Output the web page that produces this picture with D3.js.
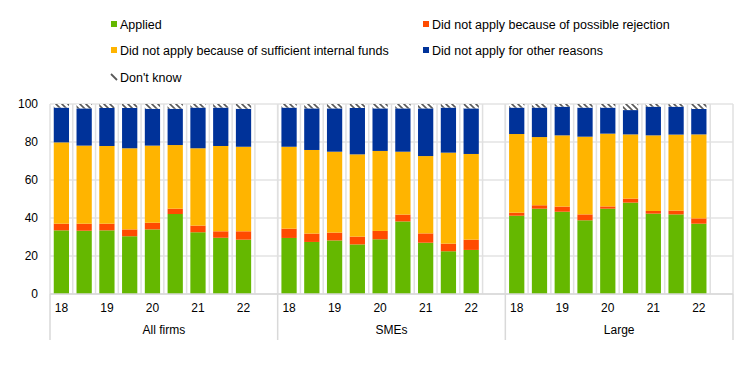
<!DOCTYPE html>
<html>
<head>
<meta charset="utf-8">
<script src="https://cdn.jsdelivr.net/npm/d3@7"></script>
<style>
  body { margin: 0; background: #fff; }
  svg { font-family: "Liberation Sans", Arial, sans-serif; }
</style>
</head>
<body>
<svg width="744" height="375"></svg>
<script>
    // categories
    const groups = ['All firms', 'SMEs', 'Large'];
    const periods = ['18H1', '18H2', '19H1', '19H2', '20H1', '20H2', '21H1', '21H2', '22H1'];
    const tickLabels = ['18', '', '19', '', '20', '', '21', '', '22'];
    const yTicks = [0, 20, 40, 60, 80, 100];

    // series values (percent), one entry per group, nine periods each
    const applied = [
      [33.5, 33.3, 33.5, 30.4, 34.0, 42.1, 32.5, 29.6, 28.6],
      [29.5, 27.4, 28.2, 26.1, 28.8, 38.2, 27.0, 22.5, 23.2],
      [41.2, 44.9, 43.3, 38.8, 44.9, 48.1, 42.3, 41.9, 37.0]
    ];
    const rejection = [
      [3.5, 3.7, 3.5, 3.6, 3.5, 2.8, 3.5, 3.4, 4.4],
      [4.9, 4.4, 4.1, 4.1, 4.4, 3.6, 4.9, 4.0, 5.4],
      [1.6, 1.8, 2.7, 3.1, 1.2, 2.1, 1.4, 2.0, 2.8]
    ];
    const internalFunds = [
      [42.8, 41.1, 40.9, 42.7, 40.6, 33.5, 40.7, 44.9, 44.5],
      [43.1, 44.0, 42.6, 43.3, 42.1, 33.1, 40.7, 47.9, 45.1],
      [41.4, 35.9, 37.5, 40.9, 38.3, 33.8, 39.8, 40.0, 44.2]
    ];
    const otherReasons = [
      [18.3, 19.6, 20.0, 21.2, 19.4, 19.1, 21.4, 20.2, 20.0],
      [20.6, 21.9, 22.8, 24.4, 22.4, 22.8, 25.1, 23.7, 24.0],
      [13.9, 15.5, 15.1, 15.3, 13.7, 12.8, 15.1, 14.7, 13.4]
    ];
    const dontKnow = [
      [1.9, 2.3, 2.1, 2.1, 2.5, 2.5, 1.9, 1.9, 2.5],
      [1.9, 2.3, 2.3, 2.1, 2.3, 2.3, 2.3, 1.9, 2.3],
      [1.9, 1.9, 1.4, 1.9, 1.9, 3.2, 1.4, 1.4, 2.6]
    ];

    const seriesNames = ['Applied', 'Did not apply because of possible rejection',
      'Did not apply because of sufficient internal funds', 'Did not apply for other reasons', "Don't know"];
    const seriesData = [applied, rejection, internalFunds, otherReasons, dontKnow];
    const colors = ['#65b800', '#ff4b00', '#ffb400', '#003299', 'url(#hatch)'];

    const svg = d3.select('svg');
    const margin = { top: 104, left: 50, right: 11, bottom: 81 };
    const width = 744 - margin.left - margin.right;
    const height = 375 - margin.top - margin.bottom;

    // hatch pattern for "Don't know"
    const pat = svg.append('defs').append('pattern')
      .attr('id', 'hatch')
      .attr('patternUnits', 'userSpaceOnUse')
      .attr('width', 6).attr('height', 6);
    pat.append('rect').attr('width', 6).attr('height', 6).attr('fill', '#fff');
    pat.append('path').attr('d', 'M-1,-1 L7,7 M-1,5 L1,7 M5,-1 L7,1')
      .attr('stroke', '#595959').attr('stroke-width', 1.6);

    // build table of rows
    const rows = [];
    groups.forEach(function(g, gi) {
      periods.forEach(function(p, pi) {
        const row = { group: g, period: p };
        seriesNames.forEach(function(s, si) { row[s] = seriesData[si][gi][pi]; });
        rows.push(row);
      });
    });
    const stacked = d3.stack().keys(seriesNames)(rows);

    // scales
    const x0 = d3.scaleBand().domain(groups).range([0, width]);
    const slotW = x0.bandwidth() / (periods.length + 1);
    const x1 = d3.scaleBand().domain(periods)
      .range([0, slotW * periods.length])
      .paddingInner(0.33).paddingOuter(0.165);
    const y = d3.scaleLinear().domain([0, 100]).range([height, 0]);

    const g = svg.append('g').attr('transform', 'translate(' + margin.left + ',' + margin.top + ')');

    // horizontal gridlines
    g.append('g').selectAll('line').data(yTicks).enter().append('line')
      .attr('x1', 0).attr('x2', width)
      .attr('y1', function(d) { return y(d); }).attr('y2', function(d) { return y(d); })
      .attr('stroke', '#e3e3e3').attr('stroke-width', 1.5);

    // vertical gridlines at slot boundaries
    const vLines = [];
    groups.forEach(function(gr) {
      for (let k = 0; k <= periods.length + 1; k++) vLines.push(x0(gr) + k * slotW);
    });
    g.append('g').selectAll('line').data(vLines).enter().append('line')
      .attr('x1', function(d) { return d; }).attr('x2', function(d) { return d; })
      .attr('y1', 0).attr('y2', height)
      .attr('stroke', '#e0e0e0').attr('stroke-width', 1.5);

    // bars
    g.append('g').selectAll('g').data(stacked).enter().append('g')
      .attr('fill', function(d, i) { return colors[i]; })
      .selectAll('rect').data(function(d) { return d; }).enter().append('rect')
      .attr('x', function(d) { return x0(d.data.group) + x1(d.data.period); })
      .attr('width', x1.bandwidth())
      .attr('y', function(d) { return y(d[1]); })
      .attr('height', function(d) { return y(d[0]) - y(d[1]); });

    // y axis labels
    const yAxis = d3.axisLeft(y).tickValues(yTicks).tickSize(0).tickPadding(12);
    const gY = g.append('g').call(yAxis);
    gY.select('.domain').remove();
    gY.selectAll('text').attr('font-size', 12).attr('fill', '#000')
      .attr('font-family', '"Liberation Sans", Arial, sans-serif');

    // x axis line and category labels
    g.append('line').attr('x1', 0).attr('x2', width).attr('y1', height).attr('y2', height)
      .attr('stroke', '#d9d9d9').attr('stroke-width', 1.5);
    groups.forEach(function(gr, gi) {
      const xa = d3.axisBottom(d3.scaleBand().domain(periods).range([x0(gr), x0(gr) + slotW * periods.length])
          .paddingInner(0.33).paddingOuter(0.165))
        .tickSize(0).tickPadding(9)
        .tickFormat(function(d, i) { return tickLabels[i]; });
      const gx = g.append('g').attr('transform', 'translate(0,' + height + ')').call(xa);
      gx.select('.domain').remove();
      gx.selectAll('text').attr('font-size', 12).attr('fill', '#000')
        .attr('font-family', '"Liberation Sans", Arial, sans-serif');
    });
    g.append('g').selectAll('text').data(groups).enter().append('text')
      .attr('x', function(d) { return x0(d) + x0.bandwidth() / 2; })
      .attr('y', height + 40)
      .attr('text-anchor', 'middle').attr('font-size', 12)
      .text(function(d) { return d; });
    const dividers = groups.map(function(d) { return x0(d); }).concat([width]);
    g.append('g').selectAll('line').data(dividers).enter().append('line')
      .attr('x1', function(d) { return d; }).attr('x2', function(d) { return d; })
      .attr('y1', height).attr('y2', height + 46)
      .attr('stroke', '#d9d9d9').attr('stroke-width', 1.5);

    // legend
    const legendPos = [[111, 24], [423, 24], [111, 50], [423, 50], [111, 77]];
    const lg = svg.append('g').selectAll('g').data(seriesNames).enter().append('g')
      .attr('transform', function(d, i) { return 'translate(' + legendPos[i][0] + ',' + legendPos[i][1] + ')'; });
    lg.each(function(d, i) {
      const el = d3.select(this);
      if (i < 4) {
        el.append('rect').attr('x', 0).attr('y', -3).attr('width', 6).attr('height', 6).attr('fill', colors[i]);
      } else {
        el.append('line').attr('x1', 0).attr('y1', -3).attr('x2', 6).attr('y2', 3)
          .attr('stroke', '#595959').attr('stroke-width', 1.8);
      }
    });
    lg.append('text').attr('x', 9).attr('y', 4.5).attr('font-size', 12.5)
      .text(function(d) { return d; });
</script>
</body>
</html>
